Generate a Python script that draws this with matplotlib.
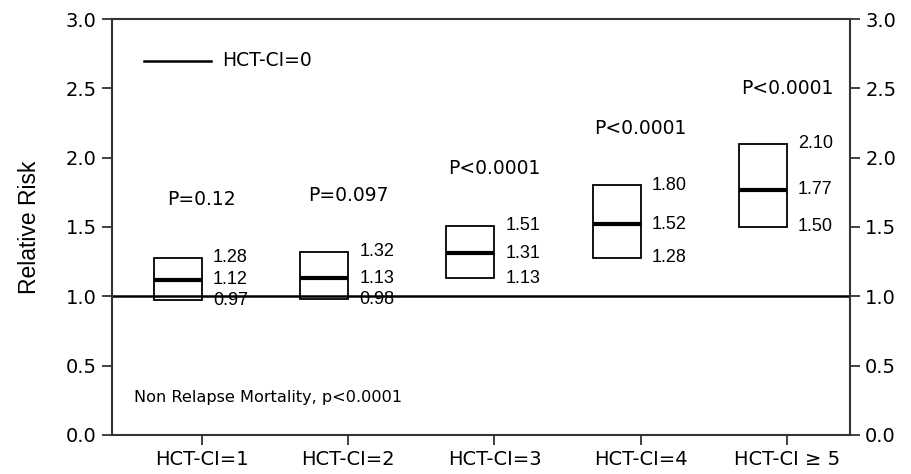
import numpy as np
import matplotlib
matplotlib.use("Agg")
import matplotlib.pyplot as plt

# relative risk by comorbidity score, reference group HCT-CI=0
categories = ["HCT-CI=1", "HCT-CI=2", "HCT-CI=3", "HCT-CI=4", "HCT-CI \u2265 5"]
rr_median = [1.12, 1.13, 1.31, 1.52, 1.77]
rr_lower = [0.97, 0.98, 1.13, 1.28, 1.50]
rr_upper = [1.28, 1.32, 1.51, 1.80, 2.10]
p_labels = ["P=0.12", "P=0.097", "P<0.0001", "P<0.0001", "P<0.0001"]
p_label_y = [1.695, 1.73, 1.925, 2.21, 2.50]

x = np.arange(1, len(categories) + 1)
box_w = 0.33

fig = plt.figure(figsize=(9.11, 4.74), dpi=100)
ax = fig.add_axes([0.1229, 0.0823, 0.8101, 0.8776])

# boxes span the CI, thick bar marks the estimate
ax.bar(x - box_w, np.array(rr_upper) - np.array(rr_lower), width=box_w,
       bottom=rr_lower, align="edge", fill=False, edgecolor="black",
       linewidth=1.3, zorder=3)
ax.hlines(rr_median, x - box_w, x, color="black", linewidth=3, zorder=4)
ax.axhline(1.0, color="black", linewidth=1.8, zorder=2)

val_font = dict(family="Liberation Sans", fontsize=13)
for xi, lo, md, hi in zip(x, rr_lower, rr_median, rr_upper):
    for v in (lo, md, hi):
        ax.text(xi + 0.075, v, f"{v:.2f}", ha="left", va="center", **val_font)

for xi, lab, yy in zip(x, p_labels, p_label_y):
    ax.text(xi, yy, lab, ha="center", va="center", fontsize=13.5)

# reference line key
ax.plot([0.603, 1.062], [2.70, 2.70], color="black", linewidth=1.8)
ax.text(1.137, 2.70, "HCT-CI=0", ha="left", va="center", fontsize=13.5)

ax.text(0.535, 0.27, "Non Relapse Mortality, p<0.0001", ha="left",
        va="center", fontsize=11.6)

ax.set_xlim(0.385, 5.43)
ax.set_ylim(0, 3.0)
ax.set_xticks(x)
ax.set_xticklabels(categories, fontsize=14)
ax.set_yticks(np.arange(0, 3.01, 0.5))
ax.set_yticklabels([f"{t:.1f}" for t in np.arange(0, 3.01, 0.5)], fontsize=14)
ax.tick_params(axis="both", direction="out", length=7, width=1.3, pad=4,
               color="#333333")
ax.tick_params(axis="x", pad=4)
ax.tick_params(axis="y", right=True, labelright=True)
for sp in ax.spines.values():
    sp.set_linewidth(1.5)
    sp.set_color("#333333")

ax.set_ylabel("Relative Risk", family="Liberation Sans", fontsize=16.5,
              labelpad=18)

fig.savefig("out.png", dpi=100, facecolor="white")
